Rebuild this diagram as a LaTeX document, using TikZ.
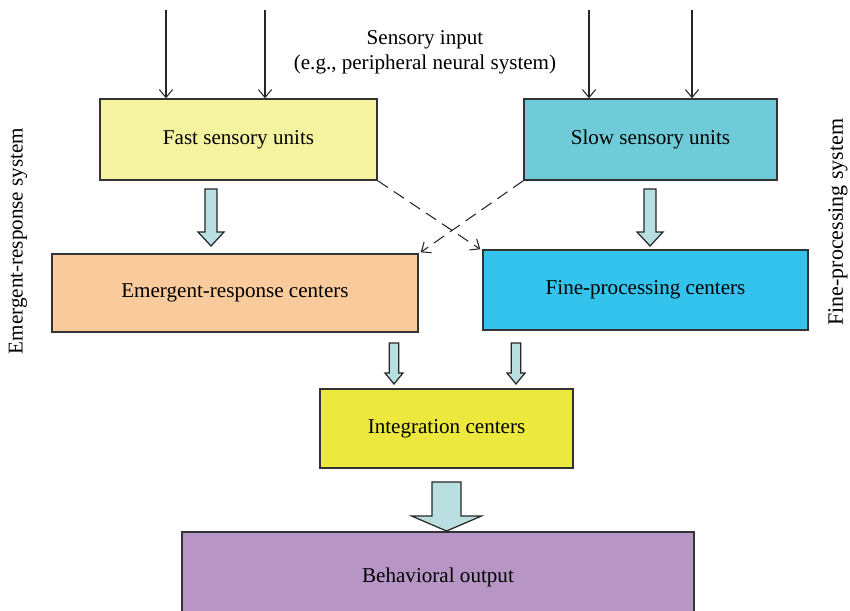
\documentclass[tikz,border=0pt]{standalone}
\usepackage{fontspec}
\setmainfont{Liberation Serif}
\usepackage{tikz}
\usepackage{xcolor}
\usetikzlibrary{calc, arrows.meta, positioning}
\definecolor{fastyellow}{RGB}{245, 243, 160}
\definecolor{slowcyan}{RGB}{112, 203, 216}
\definecolor{emergorange}{RGB}{249, 203, 156}
\definecolor{fineblue}{RGB}{51, 195, 237}
\definecolor{integyellow}{RGB}{237, 232, 62}
\definecolor{outpurple}{RGB}{183, 150, 198}
\definecolor{arrowfill}{RGB}{185, 223, 225}
\tikzstyle{unitbox} = [rectangle, minimum height=1.6cm, text centered, draw=black!80, line width=0.8pt, font=\fontsize{12}{14}\selectfont]
\tikzstyle{fatarrow} = [draw=black!85, fill=arrowfill, line width=0.7pt, line join=miter]
\tikzstyle{arrow} = [black!85, line width=0.6pt, -{Straight Barb[length=4.5pt, width=7.5pt]}]
\tikzstyle{crossarrow} = [arrow, dash pattern=on 7pt off 4pt]
% block arrow: top, tip, shaft half width, head half width, head length (cm)
\newcommand{\fatdown}[5]{%
  \draw[fatarrow] let \p1=(#1), \p2=(#2) in
    ({\x1-#3cm},{\y1}) -- ({\x1+#3cm},{\y1}) -- ({\x1+#3cm},{\y2+#5cm})
    -- ({\x1+#4cm},{\y2+#5cm}) -- (\x2,\y2) -- ({\x1-#4cm},{\y2+#5cm})
    -- ({\x1-#3cm},{\y2+#5cm}) -- cycle;}

\begin{document}
\begin{tikzpicture}
        \useasboundingbox (0,0) rectangle (17,-12.2);
        % Sensory units
        \node[unitbox, fill=fastyellow, minimum width=5.54cm, minimum height=1.62cm] (fast) at (4.77,-2.79) {Fast sensory units};
        \node[unitbox, fill=slowcyan, minimum width=5.06cm, minimum height=1.62cm] (slow) at (13.01,-2.79) {Slow sensory units};

        % Centers
        \node[unitbox, fill=emergorange, minimum width=7.32cm, minimum height=1.56cm] (emergent) at (4.70,-5.86) {Emergent-response centers};
        \node[unitbox, fill=fineblue, minimum width=6.50cm] (fine) at (12.91,-5.80) {Fine-processing centers};
        \node[unitbox, fill=integyellow, minimum width=5.06cm, minimum height=1.58cm] (integ) at (8.93,-8.57) {Integration centers};
        \node[unitbox, fill=outpurple, minimum width=10.24cm, minimum height=1.8cm] (output) at (8.76,-11.54) {Behavioral output};

        % Sensory input
        \node[font=\fontsize{12}{14.5}\selectfont, align=center] (input) at (8.5,-1.05) {Sensory input\\(e.g., peripheral neural system)};
        \coordinate (in1) at (3.32,-0.2);
        \coordinate (in2) at (5.30,-0.2);
        \coordinate (in3) at (11.78,-0.2);
        \coordinate (in4) at (13.84,-0.2);
        \draw[arrow] (in1) -- (in1 |- fast.north);
        \draw[arrow] (in2) -- (in2 |- fast.north);
        \draw[arrow] (in3) -- (in3 |- slow.north);
        \draw[arrow] (in4) -- (in4 |- slow.north);

        % Block arrows
        \coordinate (fasttop) at (4.22,-3.78);
        \coordinate (fasttip) at (4.22,-4.92);
        \coordinate (slowtop) at (13.0,-3.78);
        \coordinate (slowtip) at (13.0,-4.92);
        \coordinate (emergtop) at (7.88,-6.86);
        \coordinate (emergtip) at (7.88,-7.68);
        \coordinate (finetop) at (10.32,-6.86);
        \coordinate (finetip) at (10.32,-7.68);
        \coordinate (integtop) at (8.93,-9.64);
        \coordinate (integtip) at (8.93,-10.62);
        \fatdown{fasttop}{fasttip}{0.12}{0.26}{0.28}
        \fatdown{slowtop}{slowtip}{0.12}{0.26}{0.28}
        \fatdown{emergtop}{emergtip}{0.095}{0.18}{0.22}
        \fatdown{finetop}{finetip}{0.095}{0.18}{0.22}
        \fatdown{integtop}{integtip}{0.29}{0.70}{0.30}

        % Cross connections
        \draw[crossarrow] (fast.south east) -- ([xshift=-0.04cm]fine.north west);
        \draw[crossarrow] (slow.south west) -- ([xshift=0.04cm, yshift=0.02cm]emergent.north east);

        % Side labels
        \node[rotate=90, font=\fontsize{12}{14}\selectfont] (leftlabel) at (0.36,-4.82) {Emergent-response system};
        \node[rotate=90, font=\fontsize{12.5}{14}\selectfont] (rightlabel) at (16.76,-4.44) {Fine-processing system};
    \end{tikzpicture}
\end{document}
